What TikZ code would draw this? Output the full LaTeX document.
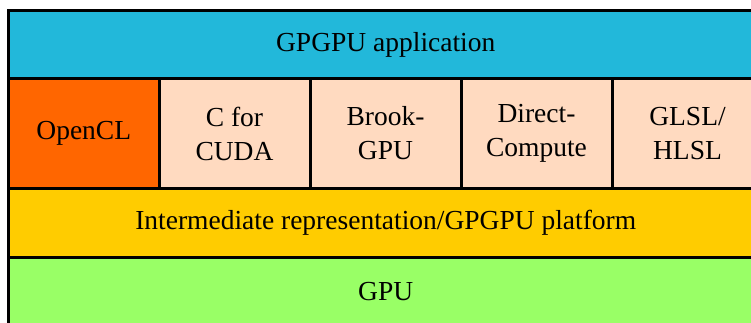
\documentclass[tikz,border=0pt]{standalone}
\usepackage{fontspec}
\setmainfont{Liberation Serif}
\definecolor{appcol}{HTML}{22B8DA}
\definecolor{oclcol}{HTML}{FF6600}
\definecolor{peach}{HTML}{FFDAC0}
\definecolor{ircol}{HTML}{FFCC00}
\definecolor{gpucol}{HTML}{99FF66}
\begin{document}
\begin{tikzpicture}[x=1pt,y=-1pt,
  layer/.style={draw=black, line width=3pt, rectangle, inner sep=0pt, outer sep=0pt,
    align=center, font=\fontsize{27.5}{34}\selectfont, text=black},
  lang/.style={layer, fill=peach, minimum width=151pt, minimum height=109pt}]
\useasboundingbox (0,0) rectangle (751,323);
\clip (0,0) rectangle (751,323);
\fill[white] (0,0) rectangle (751,323);
\node[layer, fill=appcol, minimum width=754.5pt, minimum height=68pt] (app) at (385.75,45) {GPGPU application};
\node[layer, fill=oclcol, minimum width=150.5pt, minimum height=109pt] (ocl) at (83.75,133.5) {OpenCL};
\node[lang] (cuda) at (234.5,133.5) {C for\\CUDA};
\node[lang] (brook) at (385.5,133.5) {Brook-\\GPU};
\node[lang] (dc) at (536.5,133.5) {Direct-\\Compute};
\node[lang] (glsl) at (687.5,133.5) {GLSL/\\HLSL};
\node[layer, fill=ircol, minimum width=754.5pt, minimum height=69.5pt] (ir) at (385.75,222.75) {Intermediate representation/GPGPU platform};
\node[layer, fill=gpucol, minimum width=754.5pt, minimum height=68.5pt] (gpu) at (385.75,291.75) {GPU};
\end{tikzpicture}
\end{document}
